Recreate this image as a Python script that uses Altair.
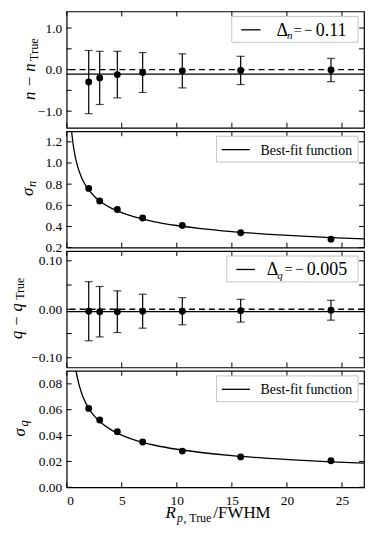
import altair as alt
import pandas as pd

# ---------------- data ----------------
x_pts = [2.0, 3.0, 4.6, 6.9, 10.5, 15.8, 24.0]
dn = [-0.30, -0.20, -0.12, -0.07, -0.03, -0.02, -0.01]
sig_n = [0.76, 0.64, 0.56, 0.48, 0.41, 0.34, 0.28]
dq = [-0.004, -0.005, -0.005, -0.004, -0.004, -0.003, -0.002]
sig_q = [0.061, 0.052, 0.043, 0.035, 0.028, 0.0235, 0.0205]

curve_n_x = [0.45, 0.5, 0.6, 0.7, 0.8, 1.0, 1.25, 1.5, 2, 2.5, 3, 4, 5, 6, 8, 10, 12, 15, 18, 21, 24, 27]
curve_n_y = [1.30, 1.25, 1.168, 1.102, 1.049, 0.965, 0.888, 0.830, 0.745, 0.685, 0.640, 0.575,
             0.530, 0.495, 0.444, 0.409, 0.382, 0.351, 0.328, 0.310, 0.295, 0.282]
curve_q_x = [0.85, 1.0, 1.25, 1.5, 2, 2.5, 3, 4, 5, 6, 8, 10, 12, 15, 18, 21, 24, 27]
curve_q_y = [0.090, 0.0836, 0.0756, 0.0695, 0.0610, 0.0552, 0.0508, 0.0446, 0.0403, 0.0371,
             0.0325, 0.0294, 0.0271, 0.0244, 0.0225, 0.0210, 0.0197, 0.0187]

delta_n = -0.11
delta_q = -0.005

x_ticks = [0, 5, 10, 15, 20, 25]
y1_ticks = [-1.0, -0.5, 0.0, 0.5, 1.0]
y2_ticks = [0.2, 0.4, 0.6, 0.8, 1.0, 1.2]
y3_ticks = [-0.10, -0.05, 0.0, 0.05, 0.10]
y4_ticks = [0.0, 0.02, 0.04, 0.06, 0.08]

W, H = 299, 117
SERIF = "Liberation Serif"
TICK_FS = 13.5
X_DOMAIN = [0, 27]

pts_n = pd.DataFrame({"x": x_pts, "y": dn, "lo": [a - b for a, b in zip(dn, sig_n)],
                      "hi": [a + b for a, b in zip(dn, sig_n)]})
pts_sn = pd.DataFrame({"x": x_pts, "y": sig_n})
pts_q = pd.DataFrame({"x": x_pts, "y": dq, "lo": [a - b for a, b in zip(dq, sig_q)],
                      "hi": [a + b for a, b in zip(dq, sig_q)]})
pts_sq = pd.DataFrame({"x": x_pts, "y": sig_q})
cur_n = pd.DataFrame({"x": curve_n_x, "y": curve_n_y})
cur_q = pd.DataFrame({"x": curve_q_x, "y": curve_q_y})
dummy = pd.DataFrame({"a": [0]})


def text(t, x, y, size, italic=False, angle=0, color="black"):
    kw = dict(text=t, font=SERIF, fontSize=size, align="left", baseline="alphabetic", color=color)
    if italic:
        kw["fontStyle"] = "italic"
    if angle:
        kw["angle"] = angle
    return alt.Chart(dummy).mark_text(**kw).encode(x=alt.value(x), y=alt.value(y))


def panel(ydom, yticks, yfmt, bottom=False):
    xs = alt.Scale(domain=X_DOMAIN, nice=False)
    ys = alt.Scale(domain=ydom, nice=False, zero=False)
    if bottom:
        xax = alt.Axis(values=x_ticks, format="d", tickSize=0, domain=False, grid=False,
                       labelPadding=6, title=None, labelFont=SERIF, labelFontSize=TICK_FS,
                       labelColor="black")
    else:
        xax = None
    yax = alt.Axis(values=yticks, format=yfmt, tickSize=0, domain=False, grid=False,
                   labelPadding=5, title=None, labelFont=SERIF, labelFontSize=TICK_FS,
                   labelColor="black")
    X = lambda f: alt.X(f, type="quantitative", scale=xs, axis=xax)
    Y = lambda f: alt.Y(f, type="quantitative", scale=ys, axis=yax)
    xt = pd.DataFrame({"t": x_ticks})
    yt = pd.DataFrame({"t": yticks})
    ticks = [
        alt.Chart(xt).mark_rule(color="black", strokeWidth=1).encode(x=X("t:Q"), y=alt.value(0), y2=alt.value(5)),
        alt.Chart(xt).mark_rule(color="black", strokeWidth=1).encode(x=X("t:Q"), y=alt.value(H - 5), y2=alt.value(H)),
        alt.Chart(yt).mark_rule(color="black", strokeWidth=1).encode(y=Y("t:Q"), x=alt.value(0), x2=alt.value(5)),
        alt.Chart(yt).mark_rule(color="black", strokeWidth=1).encode(y=Y("t:Q"), x=alt.value(W - 5), x2=alt.value(W)),
    ]
    return X, Y, ticks


def legend_box(x0, x1, lx0, lx1):
    return [
        alt.Chart(dummy).mark_rect(fill="white", stroke="#c4c4c4", strokeWidth=1).encode(
            x=alt.value(x0), x2=alt.value(x1), y=alt.value(5), y2=alt.value(31)),
        alt.Chart(dummy).mark_rule(color="black", strokeWidth=1.3).encode(
            x=alt.value(lx0), x2=alt.value(lx1), y=alt.value(18.5)),
    ]


def resid_panel(df, ydom, yticks, yfmt, delta, legend_layers, title_layers):
    X, Y, ticks = panel(ydom, yticks, yfmt)
    base = alt.Chart(df)
    ysc = alt.Scale(domain=ydom, nice=False, zero=False)
    zero = alt.Chart(dummy).mark_rule(color="black", strokeWidth=1.3, strokeDash=[6, 4]).encode(
        y=alt.Y(datum=0.0, type="quantitative", scale=ysc))
    dl = alt.Chart(dummy).mark_rule(color="black", strokeWidth=1.3).encode(
        y=alt.Y(datum=delta, type="quantitative", scale=ysc))
    err = base.mark_rule(color="black", strokeWidth=1.2).encode(x=X("x"), y=Y("lo"), y2="hi")
    cap_lo = base.mark_tick(color="black", orient="horizontal", size=8, thickness=1.2).encode(x=X("x"), y=Y("lo"))
    cap_hi = base.mark_tick(color="black", orient="horizontal", size=8, thickness=1.2).encode(x=X("x"), y=Y("hi"))
    pts = base.mark_circle(color="black", size=48, opacity=1).encode(x=X("x"), y=Y("y"))
    return alt.layer(zero, dl, err, cap_lo, cap_hi, pts, *ticks, *legend_layers, *title_layers).properties(width=W, height=H)


def sigma_panel(pdf, cdf, ydom, yticks, yfmt, title_layers, bottom=False):
    X, Y, ticks = panel(ydom, yticks, yfmt, bottom)
    line = alt.Chart(cdf).mark_line(color="black", strokeWidth=1.3, interpolate="monotone", clip=True).encode(x=X("x"), y=Y("y"))
    pts = alt.Chart(pdf).mark_circle(color="black", size=48, opacity=1).encode(x=X("x"), y=Y("y"))
    leg = legend_box(150.6, 293, 156, 184.3) + [text("Best-fit function", 195, 23.5, 14)]
    return alt.layer(line, pts, *ticks, *leg, *title_layers).properties(width=W, height=H)


# panel 1
leg1 = legend_box(166, 293, 175.5, 195) + [
    text("Δ", 211.0, 24.5, 18),
    text("n", 221.5, 28, 11, italic=True),
    text("=", 228.0, 23.5, 15),
    text("−", 238.6, 23.5, 15),
    text("0.11", 250.5, 24.5, 18),
]
tit1 = [text("n − n", -31.7, 89, 17, italic=True, angle=270),
        text("True", -29.0, 50, 12.5, angle=270)]
p1 = resid_panel(pts_n, [-1.4, 1.4], y1_ticks, ".1f", delta_n, leg1, tit1)

# panel 2
tit2 = [text("σ", -33.7, 65, 17, italic=True, angle=270),
        text("n", -30.5, 56, 12.5, italic=True, angle=270)]
p2 = sigma_panel(pts_sn, cur_n, [0.2, 1.3], y2_ticks, ".1f", tit2)

# panel 3
leg3 = legend_box(161, 293, 170.6, 189.3) + [
    text("Δ", 201.3, 24.5, 18),
    text("q", 211.8, 28, 11, italic=True),
    text("=", 219.0, 23.5, 15),
    text("−", 229.6, 23.5, 15),
    text("0.005", 241.5, 24.5, 18),
]
tit3 = [text("q − q", -45.0, 88.4, 16.5, italic=True, angle=270),
        text("True", -42.5, 49, 12, angle=270)]
p3 = resid_panel(pts_q, [-0.12, 0.12], y3_ticks, ".2f", delta_q, leg3, tit3)

# panel 4
tit4 = [text("σ", -41.7, 66, 17, italic=True, angle=270),
        text("q", -39.2, 56, 12.5, italic=True, angle=270),
        text("R", 99.3, 147.5, 17, italic=True),
        text("p", 111.0, 151.5, 12, italic=True),
        text(", True", 117.5, 151.5, 12),
        text("/FWHM", 147.5, 147.5, 17)]
p4 = sigma_panel(pts_sq, cur_q, [0.0, 0.09], y4_ticks, ".2f", tit4, bottom=True)

chart = alt.vconcat(p1, p2, p3, p4, spacing=3.5, bounds="flush").properties(
    padding={"left": 0, "top": 0, "right": 0, "bottom": 0}
).configure_view(stroke="black", strokeWidth=1.2).configure_concat(spacing=3.5).configure_axis(
    labelFont=SERIF, labelFontSize=TICK_FS, labelColor="black")

chart.save("out.html", embed_options={"renderer": "svg", "actions": False})
